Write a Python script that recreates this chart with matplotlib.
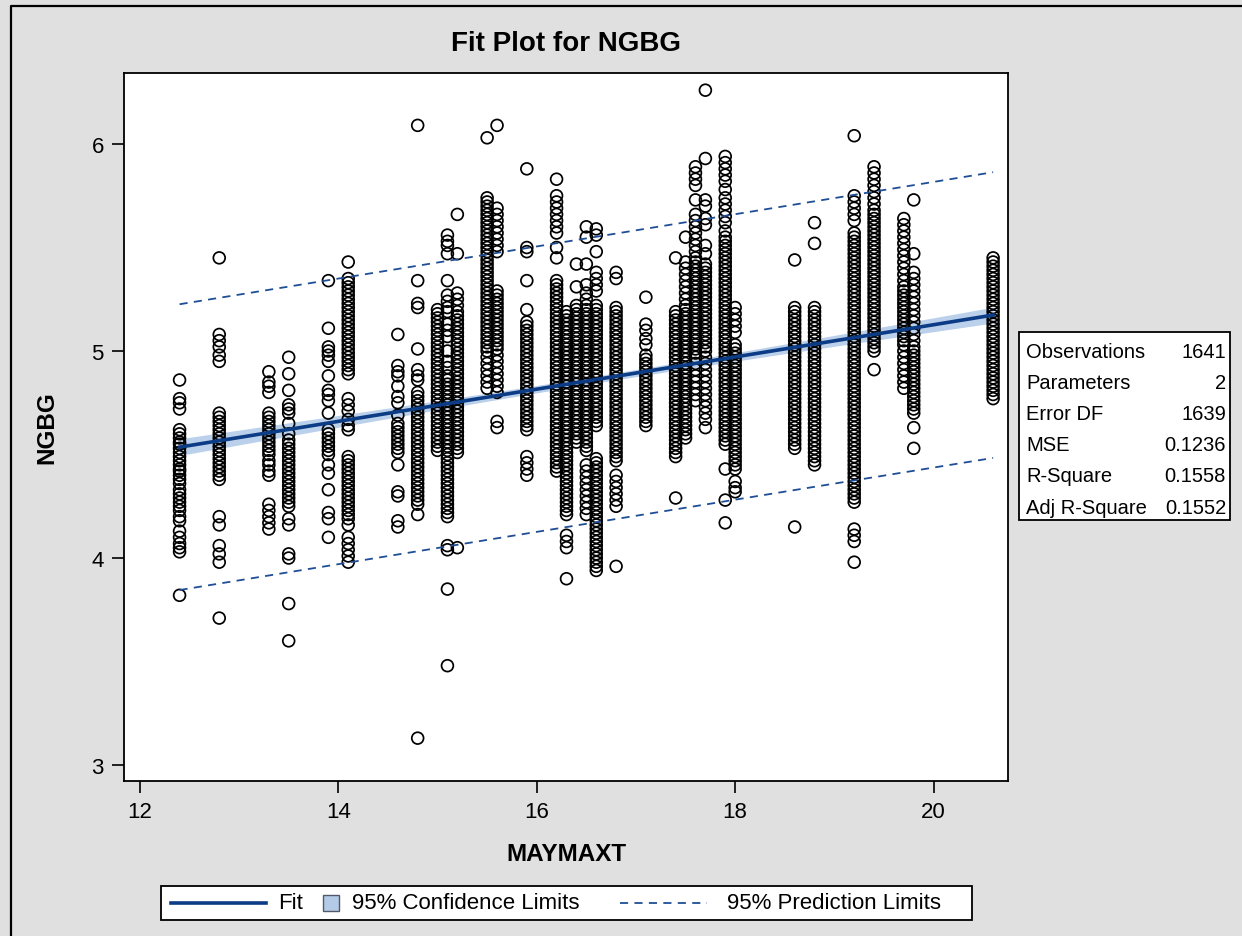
import numpy as np
import matplotlib.pyplot as plt
from matplotlib.patches import Rectangle
from matplotlib.lines import Line2D

plt.rcParams['font.family'] = ['Liberation Sans', 'DejaVu Sans']

# MAYMAXT values (one per column of points)
x_values = [12.4, 12.8, 13.3, 13.5, 13.9, 14.1, 14.6, 14.8, 15.0, 15.1, 15.2,
            15.5, 15.6, 15.9, 16.2, 16.3, 16.4, 16.5, 16.6, 16.8, 17.1, 17.4,
            17.5, 17.6, 17.7, 17.9, 18.0, 18.6, 18.8, 19.2, 19.4, 19.7, 19.8, 20.6]

# NGBG values
y_124 = [4.86, 4.77, 4.75, 4.72, 4.62, 4.60, 4.58, 4.56, 4.55, 4.53, 4.51, 4.49, 4.47, 4.45, 4.43,
         4.42, 4.40, 4.38, 4.36, 4.33, 4.31, 4.29, 4.27, 4.25, 4.23, 4.20, 4.18, 4.13, 4.10, 4.07,
         4.05, 4.03, 3.82]
y_128 = [5.45, 5.08, 5.05, 5.02, 4.98, 4.95, 4.70, 4.68, 4.66, 4.64, 4.62, 4.60, 4.58, 4.56, 4.54,
         4.52, 4.50, 4.48, 4.46, 4.44, 4.42, 4.40, 4.38, 4.20, 4.16, 4.06, 4.02, 3.98, 3.71]
y_133 = [4.90, 4.85, 4.83, 4.80, 4.70, 4.68, 4.66, 4.64, 4.62, 4.60, 4.58, 4.56, 4.54, 4.52, 4.50,
         4.47, 4.45, 4.42, 4.40, 4.26, 4.23, 4.20, 4.17, 4.14]
y_135 = [4.97, 4.89, 4.81, 4.74, 4.72, 4.70, 4.65, 4.60, 4.57, 4.55, 4.53, 4.51, 4.49, 4.47, 4.45,
         4.43, 4.41, 4.39, 4.37, 4.35, 4.33, 4.31, 4.29, 4.27, 4.25, 4.19, 4.16, 4.02, 4.00, 3.78, 3.60]
y_139 = [5.34, 5.11, 5.02, 5.00, 4.98, 4.95, 4.88, 4.81, 4.79, 4.76, 4.70, 4.62, 4.60, 4.58, 4.56,
         4.54, 4.52, 4.50, 4.45, 4.41, 4.33, 4.22, 4.19, 4.10]
y_141 = [5.43, 5.35, 5.33, 5.31, 5.29, 5.27, 5.25, 5.23, 5.21, 5.19, 5.17, 5.15, 5.13, 5.11, 5.09,
         5.07, 5.05, 5.03, 5.01, 4.99, 4.97, 4.95, 4.93, 4.91, 4.89, 4.77, 4.74, 4.71, 4.67, 4.64,
         4.62, 4.49, 4.47, 4.45, 4.43, 4.41, 4.39, 4.37, 4.35, 4.33, 4.31, 4.29, 4.27, 4.25, 4.23,
         4.21, 4.19, 4.16, 4.10, 4.07, 4.04, 4.01, 3.98]
y_146 = [5.08, 4.93, 4.90, 4.88, 4.83, 4.78, 4.75, 4.69, 4.65, 4.63, 4.61, 4.59, 4.57, 4.55, 4.53,
         4.51, 4.45, 4.32, 4.30, 4.18, 4.15]
y_148 = [6.09, 5.34, 5.23, 5.21, 5.01, 4.91, 4.88, 4.86, 4.80, 4.78, 4.76, 4.74, 4.72, 4.70, 4.68,
         4.66, 4.64, 4.62, 4.60, 4.58, 4.56, 4.54, 4.52, 4.50, 4.48, 4.46, 4.44, 4.42, 4.40, 4.38,
         4.36, 4.34, 4.32, 4.30, 4.28, 4.26, 4.21, 3.13]
y_150 = [5.20, 5.18, 5.16, 5.14, 5.12, 5.10, 5.08, 5.06, 5.04, 5.02, 5.00, 4.98, 4.96, 4.94, 4.92,
         4.90, 4.88, 4.86, 4.84, 4.82, 4.80, 4.78, 4.76, 4.74, 4.72, 4.70, 4.68, 4.66, 4.64, 4.62,
         4.60, 4.58, 4.56, 4.54, 4.52]
y_151 = [5.56, 5.53, 5.51, 5.47, 5.34, 5.27, 5.24, 5.21, 5.19, 5.13, 5.10, 5.07, 5.00, 4.95, 4.92,
         4.88, 4.86, 4.84, 4.82, 4.80, 4.78, 4.76, 4.74, 4.72, 4.70, 4.68, 4.66, 4.64, 4.62, 4.60,
         4.58, 4.56, 4.54, 4.52, 4.50, 4.48, 4.46, 4.44, 4.42, 4.40, 4.38, 4.36, 4.34, 4.32, 4.30,
         4.28, 4.26, 4.24, 4.22, 4.20, 4.06, 4.04, 3.85, 3.48]
y_152 = [5.66, 5.47, 5.28, 5.25, 5.22, 5.19, 5.17, 5.15, 5.13, 5.11, 5.09, 5.07, 5.05, 5.03, 5.01,
         4.99, 4.97, 4.95, 4.93, 4.91, 4.89, 4.87, 4.85, 4.83, 4.81, 4.79, 4.77, 4.75, 4.73, 4.71,
         4.69, 4.67, 4.65, 4.63, 4.61, 4.59, 4.57, 4.55, 4.53, 4.51, 4.05]
y_155 = [6.03, 5.74, 5.72, 5.70, 5.68, 5.66, 5.64, 5.62, 5.60, 5.58, 5.56, 5.54, 5.52, 5.50, 5.48,
         5.46, 5.44, 5.42, 5.40, 5.38, 5.36, 5.34, 5.32, 5.30, 5.28, 5.26, 5.24, 5.22, 5.20, 5.18,
         5.16, 5.14, 5.12, 5.10, 5.08, 5.06, 5.04, 5.02, 5.00, 4.97, 4.94, 4.91, 4.88, 4.85, 4.82]
y_156 = [6.09, 5.69, 5.66, 5.63, 5.60, 5.57, 5.54, 5.51, 5.48, 5.29, 5.27, 5.25, 5.23, 5.21, 5.19,
         5.17, 5.15, 5.13, 5.11, 5.09, 5.07, 5.05, 5.03, 5.01, 4.98, 4.95, 4.92, 4.89, 4.86, 4.83,
         4.80, 4.66, 4.63]
y_159 = [5.88, 5.50, 5.48, 5.34, 5.20, 5.14, 5.12, 5.10, 5.08, 5.06, 5.04, 5.02, 5.00, 4.98, 4.96,
         4.94, 4.92, 4.90, 4.88, 4.86, 4.84, 4.82, 4.80, 4.78, 4.76, 4.74, 4.72, 4.70, 4.68, 4.66,
         4.64, 4.62, 4.49, 4.46, 4.43, 4.40]
y_162 = [5.83, 5.75, 5.72, 5.69, 5.66, 5.63, 5.60, 5.57, 5.50, 5.45, 5.34, 5.32, 5.30, 5.28, 5.26,
         5.24, 5.22, 5.20, 5.18, 5.16, 5.14, 5.12, 5.10, 5.08, 5.06, 5.04, 5.02, 5.00, 4.98, 4.96,
         4.94, 4.92, 4.90, 4.88, 4.86, 4.84, 4.82, 4.80, 4.78, 4.76, 4.74, 4.72, 4.70, 4.68, 4.66,
         4.64, 4.62, 4.60, 4.58, 4.56, 4.54, 4.52, 4.50, 4.48, 4.46, 4.44, 4.42]
y_163 = [5.19, 5.17, 5.15, 5.13, 5.11, 5.09, 5.07, 5.05, 5.03, 5.01, 4.99, 4.97, 4.95, 4.93, 4.91,
         4.89, 4.87, 4.85, 4.83, 4.81, 4.79, 4.77, 4.75, 4.73, 4.71, 4.69, 4.67, 4.65, 4.63, 4.61,
         4.59, 4.57, 4.55, 4.53, 4.51, 4.49, 4.47, 4.45, 4.43, 4.41, 4.39, 4.37, 4.35, 4.33, 4.31,
         4.29, 4.27, 4.25, 4.23, 4.21, 4.11, 4.08, 4.05, 3.90]
y_164 = [5.42, 5.31, 5.22, 5.20, 5.18, 5.16, 5.14, 5.12, 5.10, 5.08, 5.06, 5.04, 5.02, 5.00, 4.98,
         4.96, 4.94, 4.92, 4.90, 4.88, 4.86, 4.84, 4.82, 4.80, 4.78, 4.76, 4.74, 4.72, 4.70, 4.68,
         4.66, 4.64, 4.62, 4.60, 4.58, 4.56]
y_165 = [5.60, 5.55, 5.42, 5.32, 5.28, 5.25, 5.22, 5.20, 5.18, 5.16, 5.14, 5.12, 5.10, 5.08, 5.06,
         5.04, 5.02, 5.00, 4.98, 4.96, 4.94, 4.92, 4.90, 4.88, 4.86, 4.84, 4.82, 4.80, 4.78, 4.76,
         4.74, 4.72, 4.70, 4.68, 4.66, 4.64, 4.62, 4.60, 4.58, 4.56, 4.54, 4.52, 4.45, 4.42, 4.39,
         4.36, 4.33, 4.30, 4.27, 4.24, 4.21]
y_166 = [5.59, 5.56, 5.48, 5.38, 5.35, 5.32, 5.29, 5.22, 5.20, 5.18, 5.16, 5.14, 5.12, 5.10, 5.08,
         5.06, 5.04, 5.02, 5.00, 4.98, 4.96, 4.94, 4.92, 4.90, 4.88, 4.86, 4.84, 4.82, 4.80, 4.78,
         4.76, 4.74, 4.72, 4.70, 4.68, 4.66, 4.64, 4.48, 4.46, 4.44, 4.42, 4.40, 4.38, 4.36, 4.34,
         4.32, 4.30, 4.28, 4.26, 4.24, 4.22, 4.20, 4.18, 4.16, 4.14, 4.12, 4.10, 4.08, 4.06, 4.04,
         4.02, 4.00, 3.98, 3.96, 3.94]
y_168 = [5.38, 5.35, 5.21, 5.19, 5.17, 5.15, 5.13, 5.11, 5.09, 5.07, 5.05, 5.03, 5.01, 4.99, 4.97,
         4.95, 4.93, 4.91, 4.89, 4.87, 4.85, 4.83, 4.81, 4.79, 4.77, 4.75, 4.73, 4.71, 4.69, 4.67,
         4.65, 4.63, 4.61, 4.59, 4.57, 4.55, 4.53, 4.51, 4.49, 4.47, 4.40, 4.37, 4.34, 4.31, 4.28,
         4.25, 3.96]
y_171 = [5.26, 5.13, 5.10, 5.06, 5.03, 4.98, 4.96, 4.94, 4.92, 4.90, 4.88, 4.86, 4.84, 4.82, 4.80,
         4.78, 4.76, 4.74, 4.72, 4.70, 4.68, 4.66, 4.64]
y_174 = [5.45, 5.19, 5.17, 5.15, 5.13, 5.11, 5.09, 5.07, 5.05, 5.03, 5.01, 4.99, 4.97, 4.95, 4.93,
         4.91, 4.89, 4.87, 4.85, 4.83, 4.81, 4.79, 4.77, 4.75, 4.73, 4.71, 4.69, 4.67, 4.65, 4.63,
         4.61, 4.59, 4.57, 4.55, 4.53, 4.51, 4.49, 4.29]
y_175 = [5.55, 5.43, 5.40, 5.37, 5.34, 5.31, 5.28, 5.25, 5.22, 5.20, 5.18, 5.16, 5.14, 5.12, 5.10,
         5.08, 5.06, 5.04, 5.02, 5.00, 4.98, 4.96, 4.94, 4.92, 4.90, 4.88, 4.86, 4.84, 4.82, 4.80,
         4.78, 4.76, 4.74, 4.72, 4.70, 4.68, 4.66, 4.64, 4.62, 4.60, 4.58]
y_176 = [5.89, 5.86, 5.83, 5.80, 5.73, 5.66, 5.63, 5.60, 5.57, 5.54, 5.51, 5.48, 5.45, 5.43, 5.41,
         5.39, 5.37, 5.35, 5.33, 5.31, 5.29, 5.27, 5.25, 5.23, 5.21, 5.19, 5.17, 5.15, 5.13, 5.11,
         5.09, 5.07, 5.05, 5.03, 5.01, 4.99, 4.97, 4.94, 4.91, 4.88, 4.85, 4.82, 4.79, 4.76]
y_177 = [6.26, 5.93, 5.73, 5.70, 5.64, 5.61, 5.51, 5.47, 5.42, 5.40, 5.38, 5.36, 5.34, 5.32, 5.30,
         5.28, 5.26, 5.24, 5.22, 5.20, 5.18, 5.16, 5.14, 5.12, 5.10, 5.08, 5.06, 5.04, 5.02, 5.00,
         4.97, 4.94, 4.91, 4.88, 4.85, 4.82, 4.79, 4.76, 4.73, 4.70, 4.67, 4.63]
y_179 = [5.94, 5.91, 5.88, 5.85, 5.82, 5.78, 5.74, 5.71, 5.68, 5.65, 5.62, 5.58, 5.55, 5.53, 5.51,
         5.49, 5.47, 5.45, 5.43, 5.41, 5.39, 5.37, 5.35, 5.33, 5.31, 5.29, 5.27, 5.25, 5.23, 5.21,
         5.19, 5.17, 5.15, 5.13, 5.11, 5.09, 5.07, 5.05, 5.03, 5.01, 4.99, 4.97, 4.95, 4.93, 4.91,
         4.89, 4.87, 4.85, 4.83, 4.81, 4.79, 4.77, 4.75, 4.73, 4.71, 4.69, 4.67, 4.65, 4.63, 4.61,
         4.59, 4.57, 4.55, 4.43, 4.28, 4.17]
y_180 = [5.21, 5.18, 5.15, 5.12, 5.09, 5.03, 5.01, 4.99, 4.97, 4.95, 4.93, 4.91, 4.89, 4.87, 4.85,
         4.83, 4.81, 4.79, 4.77, 4.75, 4.73, 4.71, 4.69, 4.67, 4.65, 4.63, 4.61, 4.59, 4.57, 4.55,
         4.53, 4.51, 4.49, 4.47, 4.45, 4.43, 4.37, 4.34, 4.32]
y_186 = [5.44, 5.21, 5.19, 5.17, 5.15, 5.13, 5.11, 5.09, 5.07, 5.05, 5.03, 5.01, 4.99, 4.97, 4.95,
         4.93, 4.91, 4.89, 4.87, 4.85, 4.83, 4.81, 4.79, 4.77, 4.75, 4.73, 4.71, 4.69, 4.67, 4.65,
         4.63, 4.61, 4.59, 4.57, 4.55, 4.53, 4.15]
y_188 = [5.62, 5.52, 5.21, 5.19, 5.17, 5.15, 5.13, 5.11, 5.09, 5.07, 5.05, 5.03, 5.01, 4.99, 4.97,
         4.95, 4.93, 4.91, 4.89, 4.87, 4.85, 4.83, 4.81, 4.79, 4.77, 4.75, 4.73, 4.71, 4.69, 4.67,
         4.65, 4.63, 4.61, 4.59, 4.57, 4.55, 4.53, 4.51, 4.49, 4.47, 4.45]
y_192 = [6.04, 5.75, 5.72, 5.69, 5.66, 5.63, 5.57, 5.55, 5.53, 5.51, 5.49, 5.47, 5.45, 5.43, 5.41,
         5.39, 5.37, 5.35, 5.33, 5.31, 5.29, 5.27, 5.25, 5.23, 5.21, 5.19, 5.17, 5.15, 5.13, 5.11,
         5.09, 5.07, 5.05, 5.03, 5.01, 4.99, 4.97, 4.95, 4.93, 4.91, 4.89, 4.87, 4.85, 4.83, 4.81,
         4.79, 4.77, 4.75, 4.73, 4.71, 4.69, 4.67, 4.65, 4.63, 4.61, 4.59, 4.57, 4.55, 4.53, 4.51,
         4.49, 4.47, 4.45, 4.43, 4.41, 4.39, 4.37, 4.35, 4.33, 4.31, 4.29, 4.27, 4.14, 4.11, 4.08, 3.98]
y_194 = [5.89, 5.86, 5.83, 5.80, 5.77, 5.74, 5.71, 5.68, 5.66, 5.64, 5.62, 5.60, 5.58, 5.56, 5.54,
         5.52, 5.50, 5.48, 5.46, 5.44, 5.42, 5.40, 5.38, 5.36, 5.34, 5.32, 5.30, 5.28, 5.26, 5.24,
         5.22, 5.20, 5.18, 5.16, 5.14, 5.12, 5.10, 5.08, 5.06, 5.04, 5.02, 5.00, 4.91]
y_197 = [5.64, 5.61, 5.58, 5.55, 5.52, 5.49, 5.46, 5.43, 5.40, 5.37, 5.34, 5.31, 5.29, 5.27, 5.25,
         5.23, 5.21, 5.19, 5.17, 5.15, 5.13, 5.11, 5.09, 5.07, 5.05, 5.03, 5.00, 4.97, 4.94, 4.91,
         4.88, 4.85, 4.82]
y_198 = [5.73, 5.47, 5.38, 5.35, 5.32, 5.29, 5.26, 5.23, 5.20, 5.17, 5.14, 5.11, 5.08, 5.05, 5.02,
         5.00, 4.98, 4.96, 4.94, 4.92, 4.90, 4.88, 4.86, 4.84, 4.82, 4.80, 4.78, 4.76, 4.74, 4.72,
         4.70, 4.63, 4.53]
y_206 = [5.45, 5.43, 5.41, 5.39, 5.37, 5.35, 5.33, 5.31, 5.29, 5.27, 5.25, 5.23, 5.21, 5.19, 5.17,
         5.15, 5.13, 5.11, 5.09, 5.07, 5.05, 5.03, 5.01, 4.99, 4.97, 4.95, 4.93, 4.91, 4.89, 4.87,
         4.85, 4.83, 4.81, 4.79, 4.77]

y_columns = [y_124, y_128, y_133, y_135, y_139, y_141, y_146, y_148, y_150, y_151, y_152,
             y_155, y_156, y_159, y_162, y_163, y_164, y_165, y_166, y_168, y_171, y_174,
             y_175, y_176, y_177, y_179, y_180, y_186, y_188, y_192, y_194, y_197, y_198, y_206]

# fit statistics (from the SAS output box) and the fitted line
stat_labels = ['Observations', 'Parameters', 'Error DF', 'MSE', 'R-Square', 'Adj R-Square']
stat_values = ['1641', '2', '1639', '0.1236', '0.1558', '0.1552']
n_obs = 1641
mse = 0.1236
intercept = 3.571
slope = 0.0778

xs = np.concatenate([[x] * len(ys) for x, ys in zip(x_values, y_columns)])
ys = np.concatenate(y_columns)

# confidence / prediction limits
xbar = xs.mean()
sxx = xs.var() * n_obs
xf = np.linspace(min(x_values), max(x_values), 200)
yf = intercept + slope * xf
ci = 1.96 * np.sqrt(mse * (1.0 / n_obs + (xf - xbar) ** 2 / sxx))
pi = 1.96 * np.sqrt(mse * (1 + 1.0 / n_obs + (xf - xbar) ** 2 / sxx))

W, H = 1242, 937
fig = plt.figure(figsize=(W / 100, H / 100), dpi=100, facecolor='#E0E0E0')

# plot area in pixel terms: left 124, right 1008, top 74, bottom 782
ax = fig.add_axes([124 / W, 1 - 782 / H, 884 / W, 708 / H])
ax.set_facecolor('white')

fit_col = '#0B3C85'
band_col = '#B4CBE8'
pred_col = '#1F4E96'

ax.fill_between(xf, yf - ci, yf + ci, color=band_col, alpha=0.9, lw=0, zorder=2)
ax.scatter(xs, ys, s=72, facecolors='none', edgecolors='black', linewidths=1.25, zorder=3)
ax.plot(xf, yf, color=fit_col, lw=2.6, zorder=4)
ax.plot(xf, yf + pi, color=pred_col, lw=1.3, dashes=(4.5, 3.5), zorder=4)
ax.plot(xf, yf - pi, color=pred_col, lw=1.3, dashes=(4.5, 3.5), zorder=4)

ax.set_xlim(11.84, 20.75)
ax.set_ylim(2.923, 6.343)
ax.set_xticks([12, 14, 16, 18, 20])
ax.set_yticks([3, 4, 5, 6])
ax.tick_params(direction='out', length=8.5, width=1.2, labelsize=16, pad=6, colors='black')
for sp in ax.spines.values():
    sp.set_linewidth(1.3)

ax.set_xlabel('MAYMAXT', fontsize=17.5, fontweight='bold', labelpad=14)
ax.set_ylabel('NGBG', fontsize=17.5, fontweight='bold', labelpad=24)

# overlay in pixel coords for title, frame, stats box, legend
ov = fig.add_axes([0, 0, 1, 1], zorder=10)
ov.set_xlim(0, W)
ov.set_ylim(H, 0)
ov.axis('off')
ov.patch.set_alpha(0)

ov.add_line(Line2D([11, 11, W], [H, 7, 7], color='black', lw=1.6))
ov.text(566, 44, 'Fit Plot for NGBG', ha='center', va='center', fontsize=20, fontweight='bold')

# statistics box
ov.add_patch(Rectangle((1019, 333), 211, 188, facecolor='white', edgecolor='black', lw=1.3))
row_y = [353, 384, 415, 446, 477, 508]
for lab, val, yy in zip(stat_labels, stat_values, row_y):
    ov.text(1026, yy, lab, ha='left', va='center', fontsize=14.5)
    ov.text(1226, yy, val, ha='right', va='center', fontsize=14.5)

# legend
ov.add_patch(Rectangle((161, 887), 811, 34, facecolor='white', edgecolor='black', lw=1.3))
ly = 904
ov.add_line(Line2D([171, 266], [ly, ly], color=fit_col, lw=2.6))
ov.text(278, ly, 'Fit', ha='left', va='center', fontsize=16)
ov.add_patch(Rectangle((323, ly - 8), 16, 16, facecolor=band_col, edgecolor='#505A6A', lw=1.0))
ov.text(352, ly, '95% Confidence Limits', ha='left', va='center', fontsize=16)
ov.add_line(Line2D([620, 707], [ly, ly], color=pred_col, lw=1.3, dashes=(4.5, 3.5)))
ov.text(727, ly, '95% Prediction Limits', ha='left', va='center', fontsize=16)

fig.savefig('out.png', dpi=100, facecolor=fig.get_facecolor())
